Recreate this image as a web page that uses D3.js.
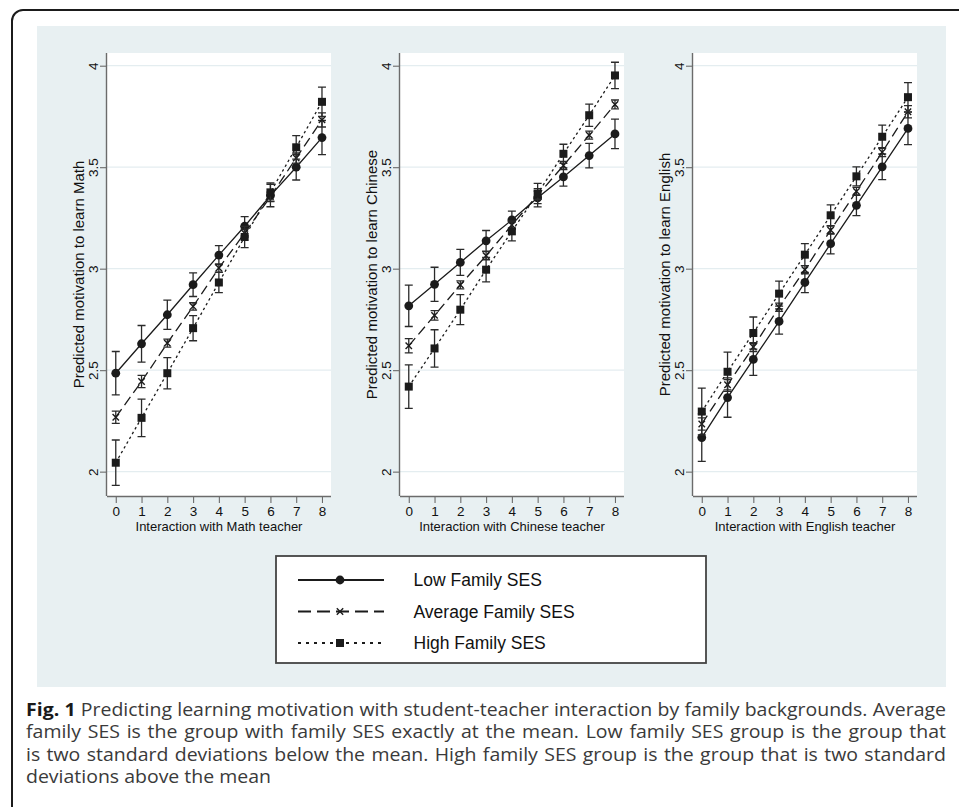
<!DOCTYPE html>
<html>
<head>
<meta charset="utf-8">
<script src="https://cdn.jsdelivr.net/npm/d3@7"></script>
<style>
  body { margin: 0; background: #fff; }
</style>
</head>
<body>
<div id="chart"></div>
<script>
// ---- data ----
const xTicks = [0, 1, 2, 3, 4, 5, 6, 7, 8];
const yTicks = [2, 2.5, 3, 3.5, 4];
const subjects = ["Math", "Chinese", "English"];
const groups = ["Low Family SES", "Average Family SES", "High Family SES"];

// predicted motivation at interaction 0..8, and half-width of the CI
const mathLow = [2.485, 2.63, 2.773, 2.921, 3.067, 3.209, 3.36, 3.50, 3.646];
const mathLowCI = [0.107, 0.09, 0.072, 0.058, 0.047, 0.047, 0.055, 0.063, 0.084];
const mathAvg = [2.268, 2.444, 2.633, 2.814, 3.003, 3.175, 3.355, 3.545, 3.733];
const mathAvgCI = [0.03, 0.03, 0.02, 0.018, 0.02, 0.02, 0.022, 0.025, 0.035];
const mathHigh = [2.044, 2.265, 2.485, 2.707, 2.932, 3.156, 3.376, 3.598, 3.822];
const mathHighCI = [0.112, 0.092, 0.077, 0.062, 0.05, 0.052, 0.046, 0.058, 0.072];

const chineseLow = [2.817, 2.923, 3.031, 3.137, 3.24, 3.349, 3.452, 3.557, 3.664];
const chineseLowCI = [0.102, 0.084, 0.064, 0.051, 0.044, 0.045, 0.045, 0.06, 0.073];
const chineseAvg = [2.62, 2.77, 2.92, 3.064, 3.215, 3.362, 3.508, 3.658, 3.809];
const chineseAvgCI = [0.035, 0.023, 0.02, 0.02, 0.02, 0.02, 0.02, 0.02, 0.022];
const chineseHigh = [2.419, 2.607, 2.798, 2.995, 3.184, 3.37, 3.566, 3.756, 3.952];
const chineseHighCI = [0.107, 0.092, 0.074, 0.06, 0.047, 0.05, 0.047, 0.055, 0.065];

const englishLow = [2.168, 2.365, 2.553, 2.74, 2.932, 3.123, 3.312, 3.502, 3.691];
const englishLowCI = [0.117, 0.097, 0.079, 0.062, 0.05, 0.05, 0.051, 0.063, 0.08];
const englishAvg = [2.235, 2.428, 2.614, 2.81, 2.995, 3.19, 3.381, 3.574, 3.773];
const englishAvgCI = [0.03, 0.025, 0.022, 0.02, 0.02, 0.02, 0.02, 0.022, 0.03];
const englishHigh = [2.296, 2.492, 2.683, 2.877, 3.069, 3.263, 3.455, 3.65, 3.845];
const englishHighCI = [0.115, 0.097, 0.079, 0.062, 0.054, 0.051, 0.047, 0.057, 0.072];

const captionLines = [
  "Fig. 1 Predicting learning motivation with student-teacher interaction by family backgrounds. Average",
  "family SES is the group with family SES exactly at the mean. Low family SES group is the group that",
  "is two standard deviations below the mean. High family SES group is the group that is two standard",
  "deviations above the mean"
];

// ---- layout ----
const W = 959, H = 807;
const ink = "#1b1b1b";
const axisGrey = "#6b6b6b";
const bgPanel = "#e8f0f2";
const plotW = 224, plotTop = 53, plotBottom = 496;
const plotLefts = [107, 400, 693];

const panels = [
  { series: [[mathLow, mathLowCI], [mathAvg, mathAvgCI], [mathHigh, mathHighCI]] },
  { series: [[chineseLow, chineseLowCI], [chineseAvg, chineseAvgCI], [chineseHigh, chineseHighCI]] },
  { series: [[englishLow, englishLowCI], [englishAvg, englishAvgCI], [englishHigh, englishHighCI]] }
];

const dashPlot = [null, "10,5", "2.5,3"];
const dashLegend = [null, "13,6", "3,5"];

const svg = d3.select("#chart").append("svg")
  .attr("width", W)
  .attr("height", H)
  .style("display", "block");

// outer frame (only top/left are inside the picture)
svg.append("rect")
  .attr("x", 12).attr("y", 10)
  .attr("width", 1000).attr("height", 1000)
  .attr("rx", 11)
  .attr("fill", "#fff")
  .attr("stroke", ink)
  .attr("stroke-width", 2);

// light panel behind the graphs
svg.append("rect")
  .attr("x", 37).attr("y", 26)
  .attr("width", 909).attr("height", 661)
  .attr("fill", bgPanel);

function drawMarker(g, k, cx, cy) {
  if (k === 0) {
    g.append("circle").attr("cx", cx).attr("cy", cy).attr("r", 4.4).attr("fill", ink);
  } else if (k === 1) {
    const s = 3.2;
    g.append("path")
      .attr("d", `M${cx - s},${cy - s}L${cx + s},${cy + s}M${cx - s},${cy + s}L${cx + s},${cy - s}`)
      .attr("stroke", ink).attr("stroke-width", 1.4).attr("fill", "none");
  } else {
    g.append("rect").attr("x", cx - 4).attr("y", cy - 4)
      .attr("width", 8).attr("height", 8).attr("fill", ink);
  }
}

panels.forEach((p, i) => {
  const left = plotLefts[i];
  const x = d3.scaleLinear().domain([-0.34, 8.35]).range([left, left + plotW]);
  const y = d3.scaleLinear().domain([1.88, 4.0626]).range([plotBottom, plotTop]);

  const g = svg.append("g");

  // plot region
  g.append("rect")
    .attr("x", left).attr("y", plotTop)
    .attr("width", plotW).attr("height", plotBottom - plotTop)
    .attr("fill", "#fff");

  // grid lines
  g.selectAll(".grid")
    .data(yTicks)
    .enter().append("line")
    .attr("x1", left).attr("x2", left + plotW)
    .attr("y1", d => y(d)).attr("y2", d => y(d))
    .attr("stroke", "#e4edf0")
    .attr("stroke-width", 1.2);

  // axes
  const xAxis = g.append("g")
    .attr("transform", `translate(0,${plotBottom})`)
    .call(d3.axisBottom(x).tickValues(xTicks).tickSize(7).tickPadding(4).tickFormat(d3.format("d")));
  xAxis.select(".domain").attr("d", `M${left},0.5H${left + plotW}`);

  const yAxis = g.append("g")
    .attr("transform", `translate(${left},0)`)
    .call(d3.axisLeft(y).tickValues(yTicks).tickSize(7).tickFormat(d => String(d)));
  yAxis.select(".domain").attr("d", `M-0.5,${plotTop}V${plotBottom}`);

  [xAxis, yAxis].forEach(a => {
    a.attr("font-size", null).attr("font-family", null);
    a.select(".domain").attr("stroke", axisGrey).attr("stroke-width", 1.4);
    a.selectAll(".tick line").attr("stroke", axisGrey).attr("stroke-width", 1.1);
    a.selectAll("text")
      .attr("fill", "#111")
      .style("font-family", "'Liberation Sans', Arial, sans-serif")
      .style("font-size", "13.5px");
  });
  xAxis.selectAll("text").attr("dy", null).attr("y", 19.5);
  // rotated y tick labels
  yAxis.selectAll(".tick text")
    .attr("x", null).attr("dy", null)
    .attr("text-anchor", "middle")
    .attr("transform", "translate(-9.5,0) rotate(-90)");

  // axis titles
  g.append("text")
    .attr("x", left + plotW / 2).attr("y", 531)
    .attr("text-anchor", "middle")
    .style("font-family", "'Liberation Sans', Arial, sans-serif")
    .style("font-size", "13px")
    .attr("fill", "#111")
    .text(`Interaction with ${subjects[i]} teacher`);

  g.append("text")
    .attr("transform", `translate(${left - 23},${(plotTop + plotBottom) / 2}) rotate(-90)`)
    .attr("text-anchor", "middle")
    .style("font-family", "'Liberation Sans', Arial, sans-serif")
    .style("font-size", "15px")
    .attr("fill", "#111")
    .text(`Predicted motivation to learn ${subjects[i]}`);

  // series
  const line = d3.line().x((d, j) => x(xTicks[j])).y(d => y(d));
  p.series.forEach(([vals, ci], k) => {
    g.append("path")
      .datum(vals)
      .attr("d", line)
      .attr("fill", "none")
      .attr("stroke", ink)
      .attr("stroke-width", 1.3)
      .attr("stroke-dasharray", dashPlot[k]);

    // error bars
    vals.forEach((v, j) => {
      const cx = x(xTicks[j]);
      const y0 = y(v - ci[j]), y1 = y(v + ci[j]);
      g.append("path")
        .attr("d", `M${cx},${y0}V${y1}M${cx - 4},${y0}H${cx + 4}M${cx - 4},${y1}H${cx + 4}`)
        .attr("stroke", "#2a2a2a")
        .attr("stroke-width", 1.3)
        .attr("fill", "none");
    });
    vals.forEach((v, j) => drawMarker(g, k, x(xTicks[j]), y(v)));
  });
});

// ---- legend ----
const leg = svg.append("g");
leg.append("rect")
  .attr("x", 276).attr("y", 556)
  .attr("width", 430).attr("height", 107)
  .attr("fill", "#fff")
  .attr("stroke", "#444")
  .attr("stroke-width", 1.8);

const legRows = [580, 611.5, 643];
groups.forEach((name, k) => {
  const cy = legRows[k];
  leg.append("line")
    .attr("x1", 298).attr("x2", 384)
    .attr("y1", cy).attr("y2", cy)
    .attr("stroke", ink)
    .attr("stroke-width", 1.8)
    .attr("stroke-dasharray", dashLegend[k]);
  drawMarker(leg, k, 340, cy);
  leg.append("text")
    .attr("x", 413.5).attr("y", cy)
    .attr("dy", "0.37em")
    .style("font-family", "'Liberation Sans', Arial, sans-serif")
    .style("font-size", "17.5px")
    .attr("fill", "#111")
    .text(name);
});

// ---- caption, justified word by word (type is a bit wide in the source) ----
const capLeft = 26, capRight = 946, stretch = 1.095;
const cap = svg.append("g")
  .attr("transform", `translate(${capLeft},0) scale(${stretch},1)`)
  .style("font-family", "'Open Sans', sans-serif")
  .style("font-size", "17.8px");
const capWidth = (capRight - capLeft) / stretch;
captionLines.forEach((ln, li) => {
  const words = ln.split(" ");
  const baseline = 716 + li * 22.3;
  const nodes = words.map((w, wi) => {
    const bold = li === 0 && wi < 2;
    return cap.append("text")
      .attr("y", baseline)
      .attr("fill", bold ? "#1a1a1a" : "#3a3a3a")
      .style("font-weight", bold ? "700" : "400")
      .text(w);
  });
  const widths = nodes.map(n => n.node().getComputedTextLength());
  const total = d3.sum(widths);
  const last = li === captionLines.length - 1;
  const gap = last ? 4.6 : (capWidth - total) / (words.length - 1);
  let cx = 0;
  nodes.forEach((n, wi) => {
    n.attr("x", cx);
    cx += widths[wi] + gap;
  });
});
</script>
</body>
</html>
